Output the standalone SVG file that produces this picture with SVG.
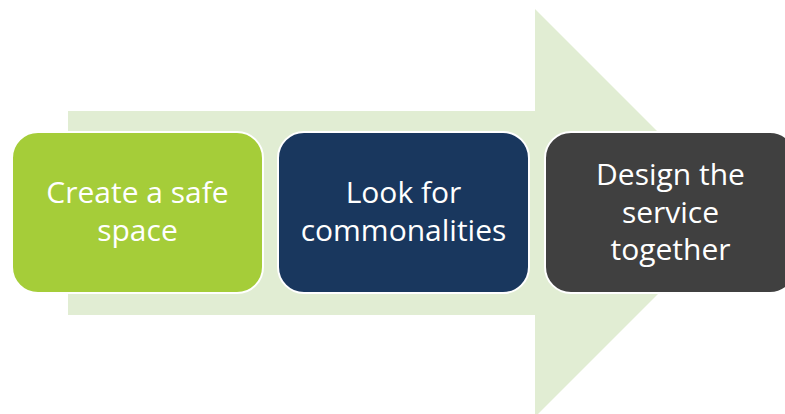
<svg xmlns="http://www.w3.org/2000/svg" width="785" height="414" viewBox="0 0 785 414">
  <style>
    .step { stroke: #ffffff; stroke-width: 2; }
    .label { font-family: "Open Sans", "Noto Sans", sans-serif; font-size: 30px; fill: #ffffff; text-anchor: middle; }
  </style>
  <rect width="785" height="414" fill="#ffffff"/>
  <!-- Background process arrow -->
  <g id="connectors">
    <polygon points="68,111 535,111 535,9 739,213 535,417 535,315 68,315" fill="#E1EDD3"/>
  </g>
  <g id="step1">
    <rect class="step" x="12" y="132" width="251" height="161" rx="26" ry="26" fill="#A5CD39"/>
    <text class="label" x="137.5" y="203">Create a safe</text>
    <text class="label" x="137.5" y="240.5">space</text>
  </g>
  <g id="step2">
    <rect class="step" x="278" y="132" width="251" height="161" rx="26" ry="26" fill="#19375E"/>
    <text class="label" x="403.5" y="203">Look for</text>
    <text class="label" x="403.5" y="240.5">commonalities</text>
  </g>
  <g id="step3">
    <rect class="step" x="545" y="132" width="251" height="161" rx="26" ry="26" fill="#404040"/>
    <text class="label" x="670.5" y="185">Design the</text>
    <text class="label" x="670.5" y="222.5">service</text>
    <text class="label" x="670.5" y="260">together</text>
  </g>
</svg>
